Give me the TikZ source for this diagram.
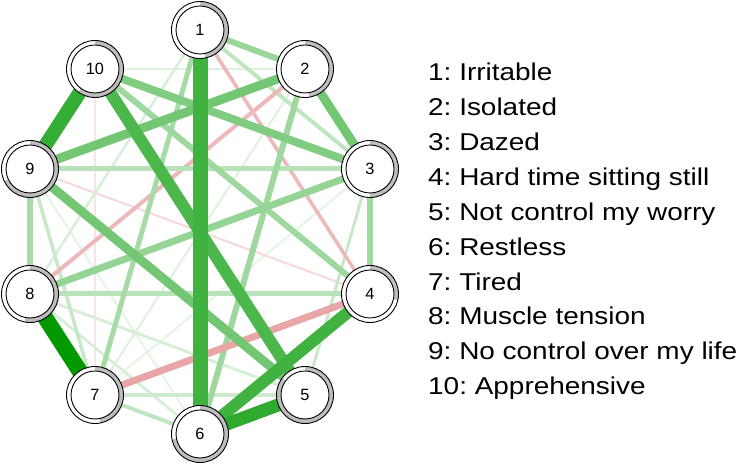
\documentclass[tikz,border=0pt]{standalone}
\usepackage{fontspec}
\setmainfont{Liberation Sans}
\newfontfamily\legendfont[FakeStretch=1.15]{Liberation Sans}
\usepackage{xcolor}
\definecolor{EdgeGreen}{HTML}{009900}
\definecolor{EdgeRed}{HTML}{C00000}
\definecolor{PieGray}{RGB}{190,190,190}
\pgfdeclarelayer{background}
\pgfdeclarelayer{ringlayer}
\pgfsetlayers{background,ringlayer,main}
\frenchspacing

\begin{document}
\begin{tikzpicture}[x=1bp, y=1bp,
    symnode/.style={circle, draw=black, fill=white, line width=0.9bp, minimum size=48bp, inner sep=0pt, font=\fontsize{16.3bp}{18bp}\selectfont},
    ring/.style={draw=black, line width=0.9bp},
    legtext/.style={anchor=base west, inner sep=0pt, font=\legendfont\fontsize{24.3bp}{28bp}\selectfont},
    edge/.style={line cap=butt}
  ]
  \useasboundingbox (0,0) rectangle (740,463);

  \foreach \i/\x/\y in {1/200/433, 2/305/394, 3/370/294, 4/370/169, 5/305/68,
                        6/200/29, 7/95/68, 8/30/169, 9/30/294, 10/95/394}
    \node[symnode] (n\i) at (\x,\y) {\i};

  \begin{pgfonlayer}{ringlayer}
    \foreach \i/\e in {1/-79.2, 2/-81, 3/-90, 4/-12.6, 5/-216, 6/-169.2, 7/-79.2, 8/-100.8, 9/-154.8, 10/-126}{
      \fill[white] (n\i.center) circle (28.5bp);
      \fill[PieGray] (n\i.center) -- ++(0,28.5bp) arc (90:\e:28.5bp) -- cycle;
      \draw[ring] (n\i.center) circle (28.5bp);
    }
  \end{pgfonlayer}

  \begin{pgfonlayer}{background}
    \foreach \a/\b/\w/\c in {10/7/1.5/EdgeRed!10, 3/7/2/EdgeGreen!10, 9/6/2/EdgeGreen!10, 10/2/2.5/EdgeGreen!13,
                             2/7/2/EdgeGreen!13, 9/4/2/EdgeRed!15, 1/8/2.5/EdgeGreen!16, 8/5/3/EdgeGreen!16,
                             8/6/3/EdgeGreen!16, 7/5/3.5/EdgeGreen!20, 3/5/3/EdgeGreen!22, 9/7/3.5/EdgeGreen!22,
                             1/3/4/EdgeGreen!25, 7/6/4/EdgeGreen!25, 1/4/3.5/EdgeRed!28, 2/8/4/EdgeRed!28,
                             9/3/5/EdgeGreen!28, 8/4/5/EdgeGreen!28, 9/8/6/EdgeGreen!35, 1/7/5/EdgeGreen!35,
                             3/4/6/EdgeGreen!38, 10/4/6/EdgeGreen!38, 2/6/6/EdgeGreen!38, 4/7/7/EdgeRed!35,
                             1/2/6/EdgeGreen!40, 8/3/7/EdgeGreen!42, 10/3/8/EdgeGreen!50, 9/2/9/EdgeGreen!55,
                             2/3/9/EdgeGreen!55, 9/5/9/EdgeGreen!55, 10/5/12/EdgeGreen!70, 4/6/12/EdgeGreen!75,
                             1/6/15/EdgeGreen!75, 5/6/13/EdgeGreen!82, 9/10/14/EdgeGreen!80, 8/7/16/EdgeGreen!100}
      \draw[edge, line width=\w bp, draw=\c] (n\a) -- (n\b);
  \end{pgfonlayer}

  \foreach \i/\t in {1/Irritable, 2/Isolated, 3/Dazed, 4/Hard time sitting still, 5/Not control my worry,
                     6/Restless, 7/Tired, 8/Muscle tension, 9/No control over my life, 10/Apprehensive}
    \node[legtext] (lab\i) at (428, {382.3-34.9*(\i-1)}) {\i: \t};
\end{tikzpicture}
\end{document}
